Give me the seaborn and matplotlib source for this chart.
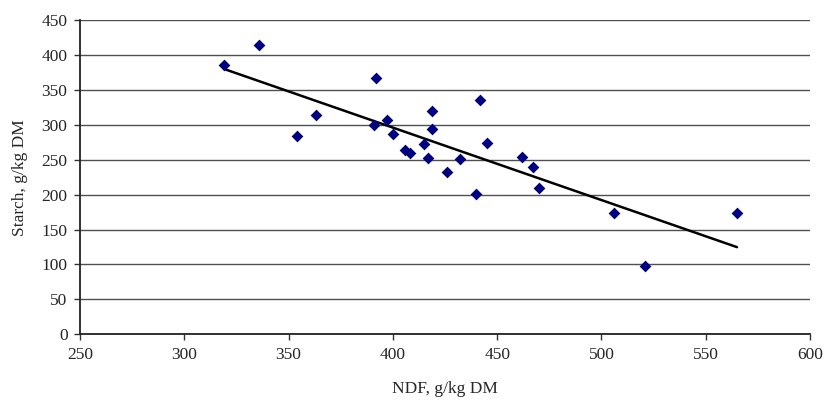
import numpy as np
import pandas as pd
import seaborn as sns
import matplotlib.pyplot as plt

# NDF vs starch
ndf = [319, 336, 354, 363, 391, 392, 397, 400, 406, 408, 415, 417, 419,
       419, 426, 432, 440, 442, 445, 462, 467, 470, 506, 521, 565]
starch = [385, 414, 284, 314, 300, 367, 307, 287, 264, 259, 273, 253, 320,
          294, 233, 251, 201, 335, 274, 254, 239, 209, 174, 98, 174]

df = pd.DataFrame({"NDF": ndf, "Starch": starch})

sns.set_style("white")
plt.rcParams['font.family'] = ['Liberation Serif', 'DejaVu Serif']

fig = plt.figure(figsize=(8.26, 4.03), dpi=100)
ax = fig.add_axes([0.0969, 0.1705, 0.8837, 0.7799])

# trend line (least squares), then the points
sns.regplot(data=df, x="NDF", y="Starch", ci=None, scatter=False, ax=ax,
            line_kws=dict(color="black", lw=1.8, zorder=3))
sns.scatterplot(data=df, x="NDF", y="Starch", marker="D", s=36,
                color="#000080", edgecolor="#000080", linewidth=0, ax=ax, zorder=4)

ax.set_xlim(250, 600)
ax.set_ylim(0, 450)
ax.set_xticks(np.arange(250, 601, 50))
ax.set_yticks(np.arange(0, 451, 50))
ax.yaxis.grid(True, color="#505050", lw=1)
ax.set_axisbelow(True)
for s in ["top", "right"]:
    ax.spines[s].set_visible(False)
for s in ["left", "bottom"]:
    ax.spines[s].set_color("#222222")
    ax.spines[s].set_linewidth(1.3)
ax.tick_params(direction="out", length=4, width=1, color="#333333",
               labelsize=12.5, bottom=True, left=True, pad=5)
ax.set_xlabel("NDF, g/kg DM", fontsize=12.5, labelpad=13)
ax.set_ylabel("Starch, g/kg DM", fontsize=12.5, labelpad=10)

fig.savefig("out.png", dpi=100)
